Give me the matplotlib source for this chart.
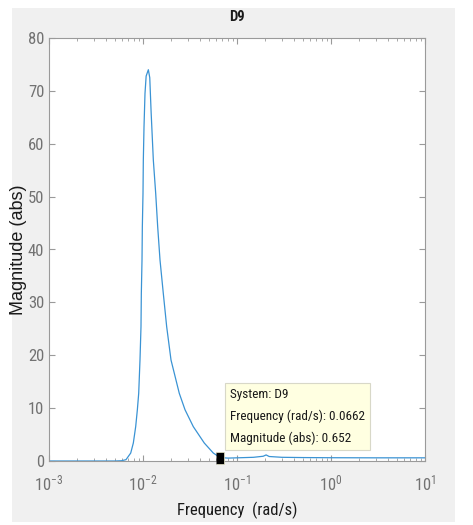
import matplotlib.pyplot as plt
from matplotlib.patches import Rectangle

# datos (respuesta en frecuencia, magnitud absoluta)
frecuencia = [0.001, 0.003, 0.005, 0.0059, 0.00659, 0.0074, 0.00789, 0.00836,
              0.00871, 0.0090, 0.00929, 0.00952, 0.0096, 0.00976, 0.00984,
              0.0100, 0.01008, 0.01025, 0.0105, 0.0108, 0.0114, 0.0118,
              0.0122, 0.01288, 0.01365, 0.01433, 0.01517, 0.01644, 0.01786,
              0.01986, 0.02432, 0.02798, 0.03428, 0.04487, 0.05598, 0.0662,
              0.08, 0.1, 0.15, 0.19, 0.204, 0.22, 0.3, 0.5, 1.0, 3.0, 10.0]
magnitud = [0, 0, 0, 0.05, 0.25, 1.5, 3.4, 6.5,
            9.7, 12.8, 19.1, 25.4, 31.7, 38.0, 44.3,
            50.6, 56.9, 63.2, 69.5, 72.8, 74.0, 72.5,
            66.0, 56.9, 50.6, 44.3, 38.0, 31.7, 25.4,
            19.1, 12.8, 9.7, 6.5, 3.4, 1.5, 0.652,
            0.55, 0.6, 0.7, 0.9, 1.15, 0.85, 0.7, 0.65, 0.62, 0.6, 0.6]

# punto marcado por el cursor de datos
frec_cursor = 0.0662
mag_cursor = 0.652
texto_cursor = ["System: D9",
                "Frequency (rad/s): 0.0662",
                "Magnitude (abs): 0.652"]

y_ticks = [0, 10, 20, 30, 40, 50, 60, 70, 80]

plt.rcParams['font.family'] = ['Roboto Condensed', 'Liberation Sans', 'DejaVu Sans']
plt.rcParams['mathtext.default'] = 'regular'

fig = plt.figure(figsize=(4.73, 5.25), dpi=100)
fig.patch.set_facecolor("white")

# fondo gris tipo ventana de MATLAB
fig.patches.append(Rectangle((12 / 473, 3 / 525), 443 / 473, 514 / 525,
                             transform=fig.transFigure, facecolor="#f0f0f0",
                             edgecolor="none", zorder=-5))

ax = fig.add_axes([49 / 473, 64 / 525, 376 / 473, 423 / 525])
ax.set_facecolor("white")

ax.plot(frecuencia, magnitud, color="#3a93d4", linewidth=0.9)
ax.plot([frec_cursor], [mag_cursor], linestyle="none",
        marker=[(-0.6, -1), (0.6, -1), (0.6, 1), (-0.6, 1)],
        markersize=9, color="black", markeredgecolor="#e8e8c8",
        markeredgewidth=0.5, zorder=5, clip_on=False)

ax.annotate("\n".join(texto_cursor), xy=(frec_cursor, mag_cursor),
            xytext=(10, 13), textcoords="offset pixels",
            ha="left", va="bottom", fontsize=9.5, color="#1a1a1a",
            linespacing=1.8,
            bbox=dict(boxstyle="square,pad=0.4", facecolor="#ffffe1",
                      edgecolor="#d8d8c8", linewidth=0.8), zorder=6)

ax.set_xscale("log")
ax.set_xlim(1e-3, 1e1)
ax.set_ylim(0, 80)
ax.set_yticks(y_ticks)

gris = "#727272"
for s in ax.spines.values():
    s.set_color("#9a9a9a")
    s.set_linewidth(0.8)

ax.tick_params(which="both", direction="in", top=True, right=True,
               colors="#9a9a9a", labelcolor=gris, labelsize=12)
ax.tick_params(which="major", length=4)
ax.tick_params(which="minor", length=2)
ax.tick_params(axis="x", pad=9)

ax.set_title("D9", fontsize=10.5, fontweight="bold", color="#1a1a1a", pad=12)
ax.set_xlabel("Frequency  (rad/s)", fontsize=12, color="#1a1a1a", labelpad=6)
ax.set_ylabel("Magnitude (abs)", fontsize=13, color="#1a1a1a",
              family=["Liberation Sans", "DejaVu Sans"])
ax.yaxis.set_label_coords(-0.0585, 0.5)

fig.savefig("out.png", dpi=100, facecolor=fig.get_facecolor())
